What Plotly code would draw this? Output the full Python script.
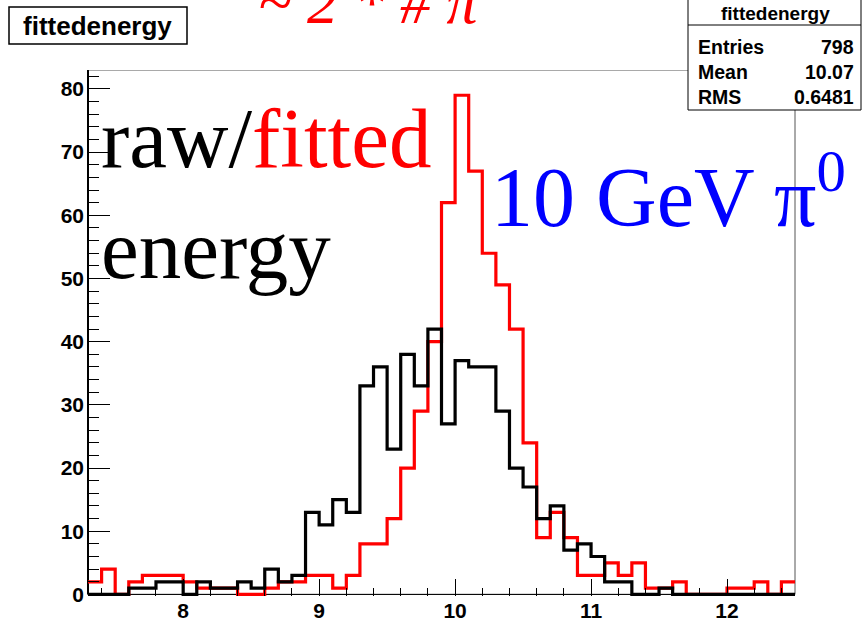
import numpy as np
import plotly.graph_objects as go

# ---------------- data ----------------
bin_low = 7.3
bin_width = 0.1
n_bins = 52

raw_counts = [0, 0, 0, 1, 1, 2, 2, 0, 2, 1,
              1, 2, 1, 4, 2, 3, 13, 11, 15, 13,
              33, 36, 23, 38, 33, 42, 27, 37, 36, 36,
              29, 20, 17, 12, 14, 7, 8, 6, 2, 2,
              0, 0, 1, 0, 0, 0, 0, 0, 0, 0,
              0, 0]
fitted_counts = [2, 4, 0, 2, 3, 3, 3, 2, 1, 1,
                 1, 0, 0, 1, 2, 2, 3, 3, 1, 3,
                 8, 8, 12, 20, 29, 40, 62, 79, 67, 54,
                 49, 42, 24, 9, 13, 9, 3, 3, 5, 3,
                 5, 1, 1, 2, 0, 0, 0, 1, 1, 2,
                 0, 2]

x_tickvals = [8, 9, 10, 11, 12]
y_tickvals = [0, 10, 20, 30, 40, 50, 60, 70, 80]
x_range = [7.3, 12.5]
y_range = [-0.25, 83.0]

hist_name = "fittedenergy"
stats_labels = ["Entries", "Mean", "RMS"]
stats_values = ["798", "10.07", "0.6481"]

# ---------------- layout geometry ----------------
W, H = 862, 618
ML, MR, MT, MB = 88, 67, 70, 22
PW = W - ML - MR
PH = H - MT - MB


def px2x(px):
    return (px - ML) / PW


def py2y(py):
    return (H - MB - py) / PH


edges = bin_low + bin_width * np.arange(n_bins + 1)

fig = go.Figure()
for counts, color in [(fitted_counts, "#ff0000"), (raw_counts, "#000000")]:
    fig.add_trace(go.Scatter(
        x=edges, y=list(counts) + [counts[-1]],
        mode="lines", line=dict(shape="hv", color=color, width=3.2),
        showlegend=False, hoverinfo="skip"))

tickfont = dict(family="Liberation Sans, Arial, sans-serif", size=21,
                color="black", weight="bold")

fig.update_xaxes(range=x_range, tickvals=x_tickvals, ticks="inside",
                 ticklen=17, tickwidth=1, tickcolor="black",
                 minor=dict(ticks="inside", ticklen=8, dtick=0.2, tick0=0,
                            tickcolor="black", tickwidth=1, showgrid=False),
                 showgrid=False, zeroline=False, showline=False,
                 tickfont=tickfont, automargin=False, fixedrange=True)
fig.update_yaxes(range=y_range, tickvals=y_tickvals, ticks="inside",
                 ticklen=22, tickwidth=1, tickcolor="black",
                 minor=dict(ticks="inside", ticklen=11, dtick=2, tick0=0,
                            tickcolor="black", tickwidth=1, showgrid=False),
                 showgrid=False, zeroline=False, showline=False,
                 ticklabelstandoff=3,
                 tickfont=tickfont, automargin=False, fixedrange=True)

shapes = [
    # frame
    dict(type="rect", xref="paper", yref="y", x0=0, x1=1, y0=0, y1=83.0,
         line=dict(color="#555555", width=1), layer="below"),
    # left axis
    dict(type="line", xref="paper", yref="y", x0=0, x1=0, y0=0, y1=83.0,
         line=dict(color="black", width=2), layer="below"),
    # bottom axis
    dict(type="line", xref="paper", yref="y", x0=0, x1=1, y0=0, y1=0,
         line=dict(color="black", width=1), layer="below"),
    # title box
    dict(type="rect", xref="paper", yref="paper",
         x0=px2x(9), x1=px2x(187), y0=py2y(44), y1=py2y(7),
         line=dict(color="black", width=1.5), fillcolor="white", layer="above"),
    # stats box
    dict(type="rect", xref="paper", yref="paper",
         x0=px2x(688), x1=px2x(861), y0=py2y(110), y1=py2y(-2),
         line=dict(color="black", width=1), fillcolor="white", layer="above"),
    dict(type="line", xref="paper", yref="paper",
         x0=px2x(688), x1=px2x(861), y0=py2y(25), y1=py2y(25),
         line=dict(color="black", width=1), layer="above"),
]

sans_b = dict(family="Liberation Sans, Arial, sans-serif", color="black",
              weight="bold")
serif = "Liberation Serif, Times New Roman, serif"

annotations = [
    dict(text=hist_name, x=px2x(97), y=py2y(26), xanchor="center",
         yanchor="middle", font=dict(size=26, **sans_b)),
    dict(text=hist_name, x=px2x(775), y=py2y(14), xanchor="center",
         yanchor="middle", font=dict(size=19, **sans_b)),
    dict(text="raw/<span style='color:#ff0000'>fitted</span>",
         x=px2x(99), y=py2y(138), xanchor="left", yanchor="middle",
         font=dict(family=serif, size=85, color="black")),
    dict(text="energy", x=px2x(99), y=py2y(249), xanchor="left",
         yanchor="middle", font=dict(family=serif, size=85, color="black")),
    dict(text="10 GeV π<sup>0</sup>", x=px2x(489), y=py2y(191),
         xanchor="left", yanchor="middle",
         font=dict(family=serif, size=84, color="#0000ff")),
    dict(text="<i>~ 2 * # π</i>", x=px2x(256), y=py2y(2), xanchor="left",
         yanchor="middle", font=dict(family=serif, size=62, color="#ff0000")),
]
stat_rows_py = [47, 72, 97]
for lab, val, py in zip(stats_labels, stats_values, stat_rows_py):
    annotations.append(dict(text=lab, x=px2x(696), y=py2y(py), xanchor="left",
                            yanchor="middle", font=dict(size=19.5, **sans_b)))
    annotations.append(dict(text=val, x=px2x(856), y=py2y(py), xanchor="right",
                            yanchor="middle", font=dict(size=19.5, **sans_b)))
for a in annotations:
    a.update(xref="paper", yref="paper", showarrow=False)

fig.update_layout(width=W, height=H,
                  margin=dict(l=ML, r=MR, t=MT, b=MB, autoexpand=False),
                  paper_bgcolor="white", plot_bgcolor="white",
                  shapes=shapes, annotations=annotations, showlegend=False)

fig.write_html("out.html", config={"displayModeBar": False})
